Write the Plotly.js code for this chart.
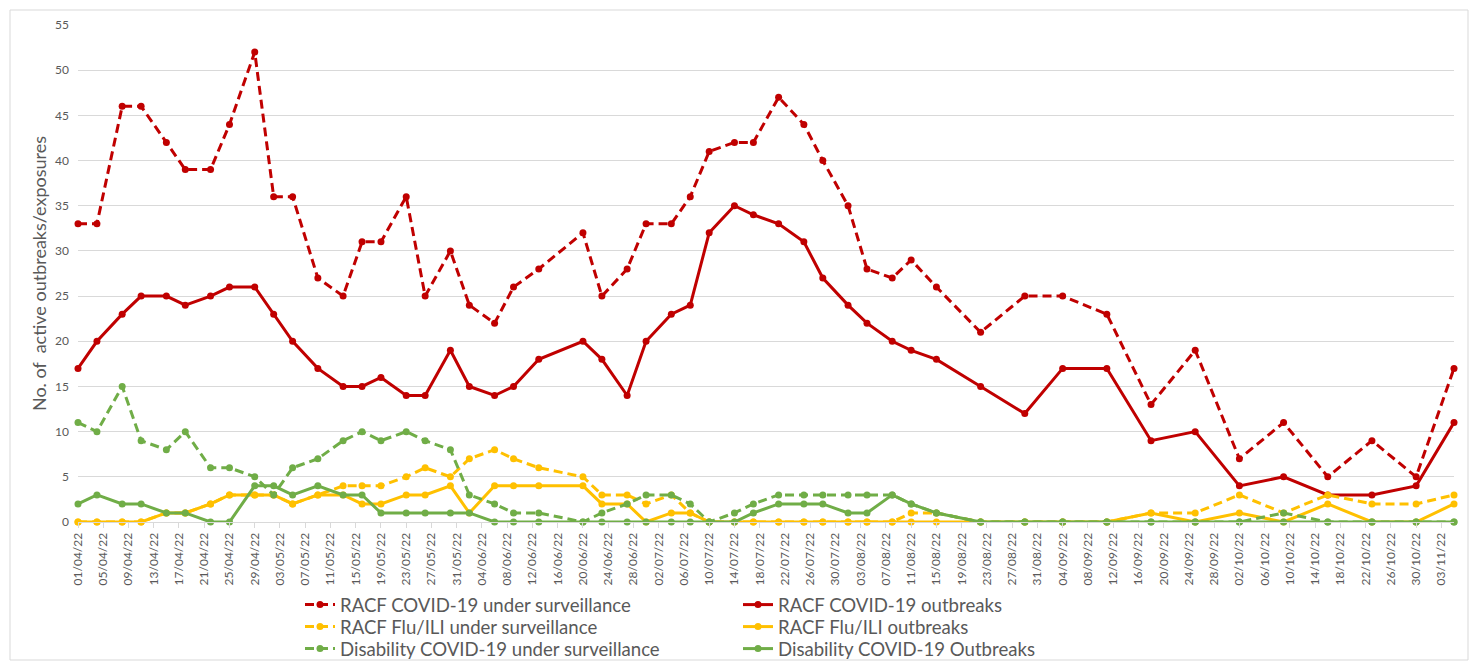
<!DOCTYPE html>
<html><head><meta charset="utf-8">
<script src="https://cdn.plot.ly/plotly-3.0.1.min.js"></script>
<style>html,body{margin:0;padding:0;background:#fff;} #chart{width:1477px;height:663px;}</style>
</head><body><div id="chart"></div>
<script>
const dates = [
'2022-04-01','2022-04-04','2022-04-08','2022-04-11','2022-04-15','2022-04-18','2022-04-22','2022-04-25','2022-04-29','2022-05-02',
'2022-05-05','2022-05-09','2022-05-13','2022-05-16','2022-05-19','2022-05-23','2022-05-26','2022-05-30','2022-06-02','2022-06-06',
'2022-06-09','2022-06-13','2022-06-20','2022-06-23','2022-06-27','2022-06-30','2022-07-04','2022-07-07','2022-07-10','2022-07-14',
'2022-07-17','2022-07-21','2022-07-25','2022-07-28','2022-08-01','2022-08-04','2022-08-08','2022-08-11','2022-08-15','2022-08-22',
'2022-08-29','2022-09-04','2022-09-11','2022-09-18','2022-09-25','2022-10-02','2022-10-09','2022-10-16','2022-10-23','2022-10-30',
'2022-11-05'];

const racfCovidSurveillance = [33,33,46,46,42,39,39,44,52,36, 36,27,25,31,31,36,25,30,24,22, 26,28,32,25,28,33,33,36,41,42, 42,47,44,40,35,28,27,29,26,21, 25,25,23,13,19,7,11,5,9,5, 17];
const racfCovidOutbreaks    = [17,20,23,25,25,24,25,26,26,23, 20,17,15,15,16,14,14,19,15,14, 15,18,20,18,14,20,23,24,32,35, 34,33,31,27,24,22,20,19,18,15, 12,17,17,9,10,4,5,3,3,4, 11];
const racfFluSurveillance   = [0,0,0,0,1,1,2,3,3,3, 2,3,4,4,4,5,6,5,7,8, 7,6,5,3,3,2,3,1,0,0, 0,0,0,0,0,0,0,1,1,0, 0,0,0,1,1,3,1,3,2,2, 3];
const racfFluOutbreaks      = [0,0,0,0,1,1,2,3,3,3, 2,3,3,2,2,3,3,4,1,4, 4,4,4,2,2,0,1,1,0,0, 0,0,0,0,0,0,0,0,0,0, 0,0,0,1,0,1,0,2,0,0, 2];
const disCovidSurveillance  = [11,10,15,9,8,10,6,6,5,3, 6,7,9,10,9,10,9,8,3,2, 1,1,0,1,2,3,3,2,0,1, 2,3,3,3,3,3,3,2,1,0, 0,0,0,0,0,0,1,0,0,0, 0];
const disCovidOutbreaks     = [2,3,2,2,1,1,0,0,4,4, 3,4,3,3,1,1,1,1,1,0, 0,0,0,0,0,0,0,0,0,0, 1,2,2,2,1,1,3,2,1,0, 0,0,0,0,0,0,0,0,0,0, 0];

const seriesNames = ['RACF COVID-19 under surveillance','RACF COVID-19 outbreaks','RACF Flu/ILI under surveillance','RACF Flu/ILI outbreaks','Disability COVID-19 under surveillance','Disability COVID-19 Outbreaks'];
const seriesValues = [racfCovidSurveillance, racfCovidOutbreaks, racfFluSurveillance, racfFluOutbreaks, disCovidSurveillance, disCovidOutbreaks];
const seriesColors = ['#C00000','#C00000','#FFC000','#FFC000','#70AD47','#70AD47'];
const seriesDashed = [true,false,true,false,true,false];
const yTitle = 'No. of  active outbreaks/exposures';

const FONT = 'Lato, "Open Sans", sans-serif';
const GREY = '#595959';
const L = 78, R = 23, T = 25, B = 141;
const W = 1477, H = 663;
const pw = W - L - R, ph = H - T - B;
const xp = px => (px - L) / pw;
const yp = py => (H - B - py) / ph;

const legendIds = ['legend','legend2','legend3','legend4','legend5','legend6'];
const traces = seriesNames.map((n, i) => ({
  type: 'scatter', mode: 'lines+markers', x: dates, y: seriesValues[i], name: n,
  line: {color: seriesColors[i], width: 3, dash: seriesDashed[i] ? '9px,5px' : 'solid'},
  marker: {color: seriesColors[i], size: 7, symbol: 'circle'},
  legend: legendIds[i], showlegend: true, cliponaxis: false
}));

const layout = {
  width: W, height: H,
  margin: {l: L, r: R, t: T, b: B, autoexpand: false},
  paper_bgcolor: '#fff', plot_bgcolor: '#fff',
  font: {family: FONT, color: GREY},
  xaxis: {
    type: 'date', range: ['2022-04-01', '2022-11-05'],
    tick0: '2022-04-01', dtick: 4 * 86400000, tickformat: '%d/%m/%y',
    tickangle: -90, tickfont: {size: 12, color: GREY, family: FONT},
    showgrid: false, showline: true, linecolor: '#d9d9d9', linewidth: 1,
    ticks: 'outside', ticklen: 5, tickcolor: '#d9d9d9', zeroline: false, automargin: false
  },
  yaxis: {
    range: [0, 55], dtick: 5, tick0: 0,
    tickfont: {size: 12, color: GREY, family: FONT},
    showgrid: true, gridcolor: '#d9d9d9', gridwidth: 1, zeroline: false, showline: false,
    ticks: '', ticklabelstandoff: 8, automargin: false,
    title: {text: yTitle, font: {size: 18, color: GREY, family: FONT}, standoff: 3}
  },
  shapes: [{type: 'rect', xref: 'paper', yref: 'paper', x0: xp(10), x1: xp(1468), y0: yp(660), y1: yp(10), line: {color: '#d9d9d9', width: 1}, fillcolor: 'rgba(0,0,0,0)', layer: 'below'}]
};
const legX = [300, 738];
const legY = [586, 608, 630];
legendIds.forEach((id, i) => {
  layout[id] = {
    x: xp(legX[i % 2]), y: yp(legY[Math.floor(i / 2)]), xanchor: 'left', yanchor: 'top',
    bgcolor: 'rgba(0,0,0,0)', borderwidth: 0, font: {size: 18.6, color: GREY, family: FONT},
    itemwidth: 30
  };
});

Plotly.newPlot('chart', traces, layout, {displayModeBar: false, staticPlot: true});
</script></body></html>
